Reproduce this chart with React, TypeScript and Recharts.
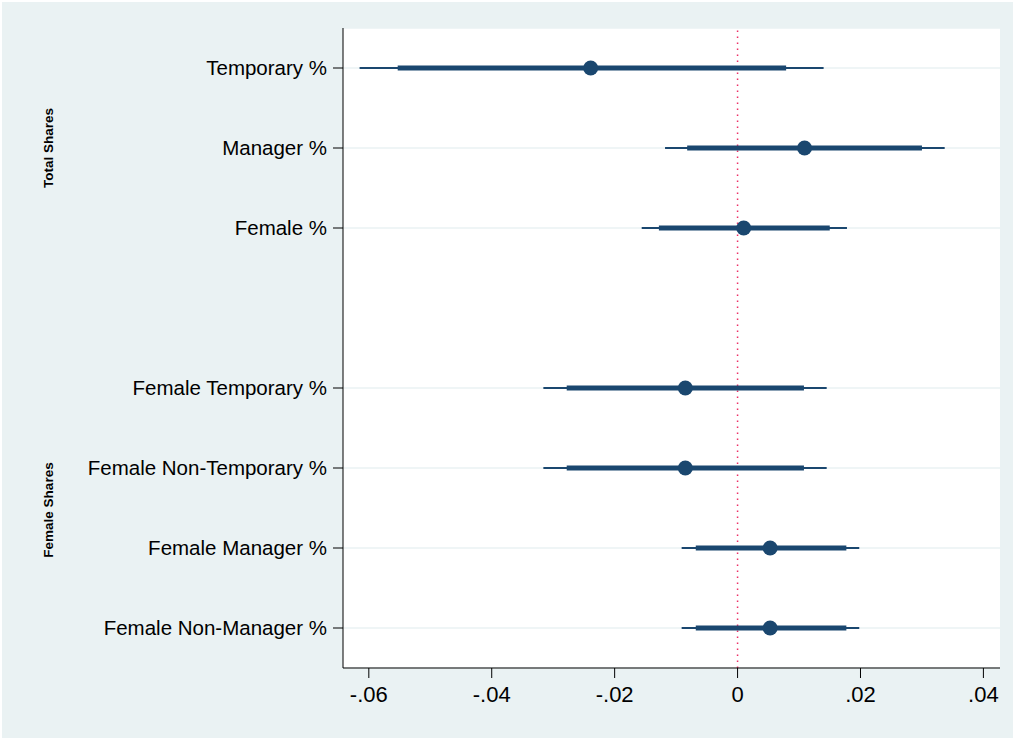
import {
  ScatterChart,
  Scatter,
  XAxis,
  YAxis,
  CartesianGrid,
  ErrorBar,
  ReferenceLine,
} from 'recharts';

// row labels top to bottom (row 4 is the gap between groups)
const rowLabels = [
  'Temporary %',
  'Manager %',
  'Female %',
  '',
  'Female Temporary %',
  'Female Non-Temporary %',
  'Female Manager %',
  'Female Non-Manager %',
];
const rowPos = [1, 2, 3, 5, 6, 7, 8];

// point estimates and confidence bounds
const coef = [-0.0239, 0.0109, 0.001, -0.0085, -0.0085, 0.0053, 0.0053];
const innerLow = [-0.0553, -0.0082, -0.0128, -0.0278, -0.0278, -0.0068, -0.0068];
const innerHigh = [0.0079, 0.03, 0.015, 0.0108, 0.0108, 0.0177, 0.0177];
const outerLow = [-0.0615, -0.0118, -0.0156, -0.0316, -0.0316, -0.0091, -0.0091];
const outerHigh = [0.014, 0.0337, 0.0178, 0.0145, 0.0145, 0.0198, 0.0198];

const xTicks = [-0.06, -0.04, -0.02, 0, 0.02, 0.04];
const yTicks = [1, 2, 3, 5, 6, 7, 8];

const groups = [
  { name: 'Total Shares', y: 148 },
  { name: 'Female Shares', y: 510 },
];

const NAVY = '#1a476f';
const FONT = '"Liberation Sans", Arial, Helvetica, sans-serif';

const data = coef.map((c, i) => ({
  pos: rowPos[i],
  coef: c,
  inner: [c - innerLow[i], innerHigh[i] - c],
  outer: [c - outerLow[i], outerHigh[i] - c],
}));

const fmtX = (v: number) => {
  if (Math.abs(v) < 1e-9) return '0';
  const s = Math.abs(v).toFixed(2).replace(/^0/, '');
  return (v < 0 ? '-' : '') + s;
};

const Dot = (props: any) => (
  <circle cx={props.cx} cy={props.cy} r={7.5} fill={NAVY} />
);

export default function App() {
  return (
    <div style={{ position: 'relative', width: 1015, height: 740, background: '#fff', fontFamily: FONT }}>
      <style>{'body{margin:0}'}</style>
      <div
        style={{
          position: 'absolute',
          left: 2,
          top: 2,
          width: 1011,
          height: 736,
          background: '#eaf2f3',
        }}
      />
      <div style={{ position: 'absolute', left: 0, top: 0 }}>
        <ScatterChart
          width={1015}
          height={740}
          margin={{ top: 28, right: 15, bottom: 12, left: 8 }}
        >
          <CartesianGrid
            vertical={false}
            stroke="#eaf2f3"
            strokeWidth={1.5}
            fill="#ffffff"
            fillOpacity={1}
          />
          <XAxis
            type="number"
            dataKey="coef"
            domain={[-0.0642, 0.0427]}
            allowDataOverflow
            ticks={xTicks}
            tickFormatter={fmtX}
            height={60}
            tickSize={10}
            tickMargin={8}
            axisLine={{ stroke: '#000' }}
            tickLine={{ stroke: '#000' }}
            tick={{ fill: '#000', fontSize: 22, fontFamily: FONT }}
          />
          <YAxis
            type="number"
            dataKey="pos"
            domain={[0.5, 8.5]}
            reversed
            ticks={yTicks}
            interval={0}
            tickFormatter={(v: number) => rowLabels[v - 1]}
            width={335}
            tickSize={10}
            tickMargin={6}
            axisLine={{ stroke: '#000' }}
            tickLine={{ stroke: '#000' }}
            tick={{ fill: '#000', fontSize: 20.5, fontFamily: FONT }}
          />
          <ReferenceLine x={0} stroke="#ec2f66" strokeWidth={1.5} strokeDasharray="1.5 4.5" />
          <Scatter data={data} shape={Dot} isAnimationActive={false}>
            <ErrorBar
              dataKey="outer"
              direction="x"
              width={0}
              stroke={NAVY}
              strokeWidth={2}
              isAnimationActive={false}
            />
            <ErrorBar
              dataKey="inner"
              direction="x"
              width={0}
              stroke={NAVY}
              strokeWidth={5}
              isAnimationActive={false}
            />
          </Scatter>
        </ScatterChart>
      </div>
      {groups.map((g) => (
        <div
          key={g.name}
          style={{
            position: 'absolute',
            left: 48,
            top: g.y,
            transform: 'translate(-50%, -50%) rotate(-90deg)',
            whiteSpace: 'nowrap',
            fontWeight: 'bold',
            fontSize: 13.5,
            color: '#000',
          }}
        >
          {g.name}
        </div>
      ))}
    </div>
  );
}
